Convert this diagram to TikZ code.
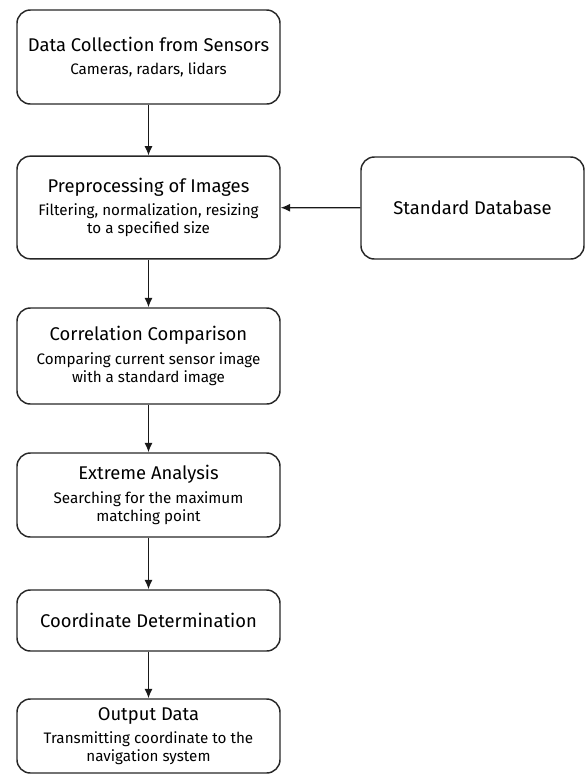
\documentclass[tikz,border=0pt]{standalone}
\usepackage{fontspec}
\setmainfont{Fira Sans}
\usetikzlibrary{arrows.meta}
\newcommand{\boxhead}[1]{{\fontsize{13.8}{16}\selectfont #1}}
\tikzset{
    procbox/.style={draw=black!85, line width=1.1pt, rounded corners=10pt,
        minimum width=197.25pt, align=center, inner sep=2pt,
        font=\fontsize{11.4}{13.5}\selectfont, text=black},
    flowarrow/.style={draw=black!90, line width=0.9pt, -{Latex[length=7pt,width=6pt]}}
}
\begin{document}
\begin{tikzpicture}[x=0.75pt,y=-0.75pt]
                \useasboundingbox (0,0) rectangle (586,776);
                \node[procbox, minimum height=70.5pt] (collect) at (148.5,57) {\boxhead{Data Collection from Sensors}\\[4pt]Cameras, radars, lidars};
                \node[procbox, minimum height=77pt] (preproc) at (148.5,207.5) {\boxhead{Preprocessing of Images}\\[4pt]Filtering, normalization, resizing\\to a specified size};
                \node[procbox, minimum width=167.25pt, minimum height=76.5pt] (database) at (472.5,208) {\boxhead{Standard Database}};
                \node[procbox, minimum height=72pt] (correl) at (148.5,356) {\boxhead{Correlation Comparison}\\[4pt]Comparing current sensor image\\with a standard image};
                \node[procbox, minimum height=63pt] (extreme) at (148.5,495) {\boxhead{Extreme Analysis}\\[4pt]Searching for the maximum\\matching point};
                \node[procbox, minimum height=45.75pt] (coord) at (148.5,620.5) {\boxhead{Coordinate Determination}};
                \node[procbox, minimum height=55.5pt] (output) at (148.5,736) {\boxhead{Output Data}\\[4pt]Transmitting coordinate to the\\navigation system};
                \draw[flowarrow] (collect) -- (preproc);
                \draw[flowarrow] (database) -- (preproc);
                \draw[flowarrow] (preproc) -- (correl);
                \draw[flowarrow] (correl) -- (extreme);
                \draw[flowarrow] (extreme) -- (coord);
                \draw[flowarrow] (coord) -- (output);
            \end{tikzpicture}
\end{document}
